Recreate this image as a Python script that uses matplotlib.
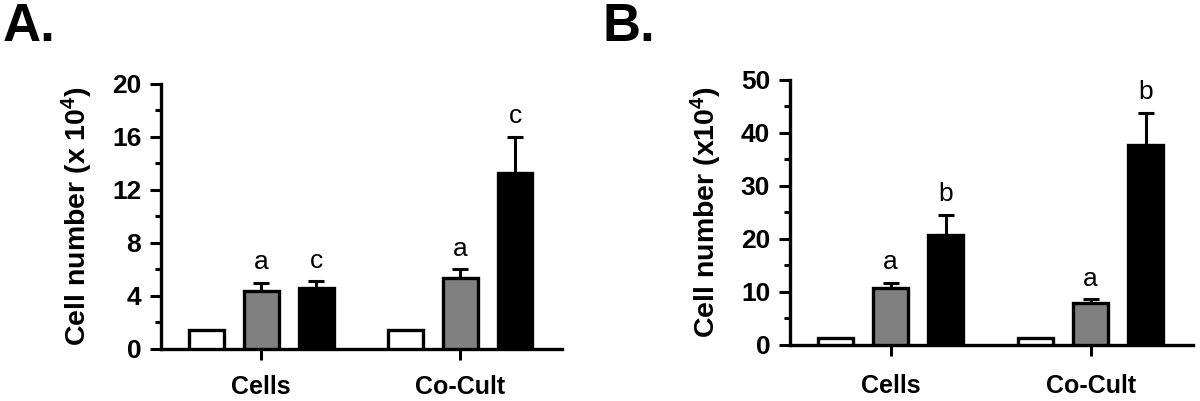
import numpy as np
import matplotlib
matplotlib.use("Agg")
import matplotlib.pyplot as plt
from matplotlib.ticker import MultipleLocator

plt.rcParams['font.family'] = ['Liberation Sans', 'DejaVu Sans']
plt.rcParams['mathtext.fontset'] = 'custom'
plt.rcParams['mathtext.rm'] = 'Liberation Sans:bold'
plt.rcParams['mathtext.bf'] = 'Liberation Sans:bold'
plt.rcParams['mathtext.default'] = 'bf'

# data
groups = ["Cells", "Co-Cult"]
colors = ["white", "#808080", "black"]

a_white = [1.4, 1.4]
a_gray = [4.4, 5.35]
a_black = [4.6, 13.3]
a_gray_err = [0.6, 0.65]
a_black_err = [0.5, 2.7]
a_gray_letters = ["a", "a"]
a_black_letters = ["c", "c"]

b_white = [1.4, 1.4]
b_gray = [10.7, 7.9]
b_black = [20.7, 37.7]
b_gray_err = [1.05, 0.7]
b_black_err = [3.8, 6.1]
b_gray_letters = ["a", "a"]
b_black_letters = ["b", "b"]

fig = plt.figure(figsize=(12, 4.01), dpi=100)

def panel(rect, white, gray, black, gray_err, black_err, gl, bl, ymax, major, minor, ylabel, tag, tagx, xpad):
    ax = fig.add_axes(rect)
    x = np.arange(len(groups))
    off = 0.276
    w = 0.175
    series = [(white, None, None), (gray, gray_err, gl), (black, black_err, bl)]
    for i, (vals, errs, letters) in enumerate(series):
        pos = x + (i - 1) * off
        ax.bar(pos, vals, width=w, color=colors[i], edgecolor="black", linewidth=2.4, zorder=3)
        if errs is not None:
            ax.errorbar(pos, vals, yerr=[np.zeros(len(vals)), errs], fmt="none", ecolor="black",
                        elinewidth=2.2, capsize=6, capthick=2.2, zorder=2)
            for p, v, e, t in zip(pos, vals, errs, letters):
                ax.annotate(t, (p, v + e), xytext=(0, 15), textcoords="offset points",
                            ha="center", va="center", fontsize=19)
    ax.set_xlim(-0.505, 1.51)
    ax.set_ylim(0, ymax)
    ax.yaxis.set_major_locator(MultipleLocator(major))
    ax.yaxis.set_minor_locator(MultipleLocator(minor))
    ax.set_xticks(x)
    ax.set_xticklabels(groups, fontsize=18, fontweight="bold")
    for lab in ax.get_yticklabels():
        lab.set_fontweight("bold")
        lab.set_fontsize(19)
    ax.spines["top"].set_visible(False)
    ax.spines["right"].set_visible(False)
    ax.spines["left"].set_linewidth(2.4)
    ax.spines["bottom"].set_linewidth(2.4)
    ax.tick_params(axis="y", which="major", length=8, width=2.2, pad=6)
    ax.tick_params(axis="y", which="minor", length=4.5, width=2.2)
    ax.tick_params(axis="x", which="major", length=8, width=2.2, pad=xpad)
    ax.set_ylabel(ylabel, fontsize=20.5, fontweight="bold", labelpad=12)
    fig.text(tagx, 0.995, tag, fontsize=38, fontweight="bold", ha="left", va="top")
    return ax

panel([0.134, 0.1297, 0.334, 0.661], a_white, a_gray, a_black, a_gray_err, a_black_err,
      a_gray_letters, a_black_letters, 20, 4, 2, "Cell number (x 10$^4$)", "A.", 0.002, 11)
panel([0.658, 0.1397, 0.336, 0.661], b_white, b_gray, b_black, b_gray_err, b_black_err,
      b_gray_letters, b_black_letters, 50, 10, 5, "Cell number (x10$^4$)", "B.", 0.502, 13)

fig.savefig("out.png", dpi=100)
